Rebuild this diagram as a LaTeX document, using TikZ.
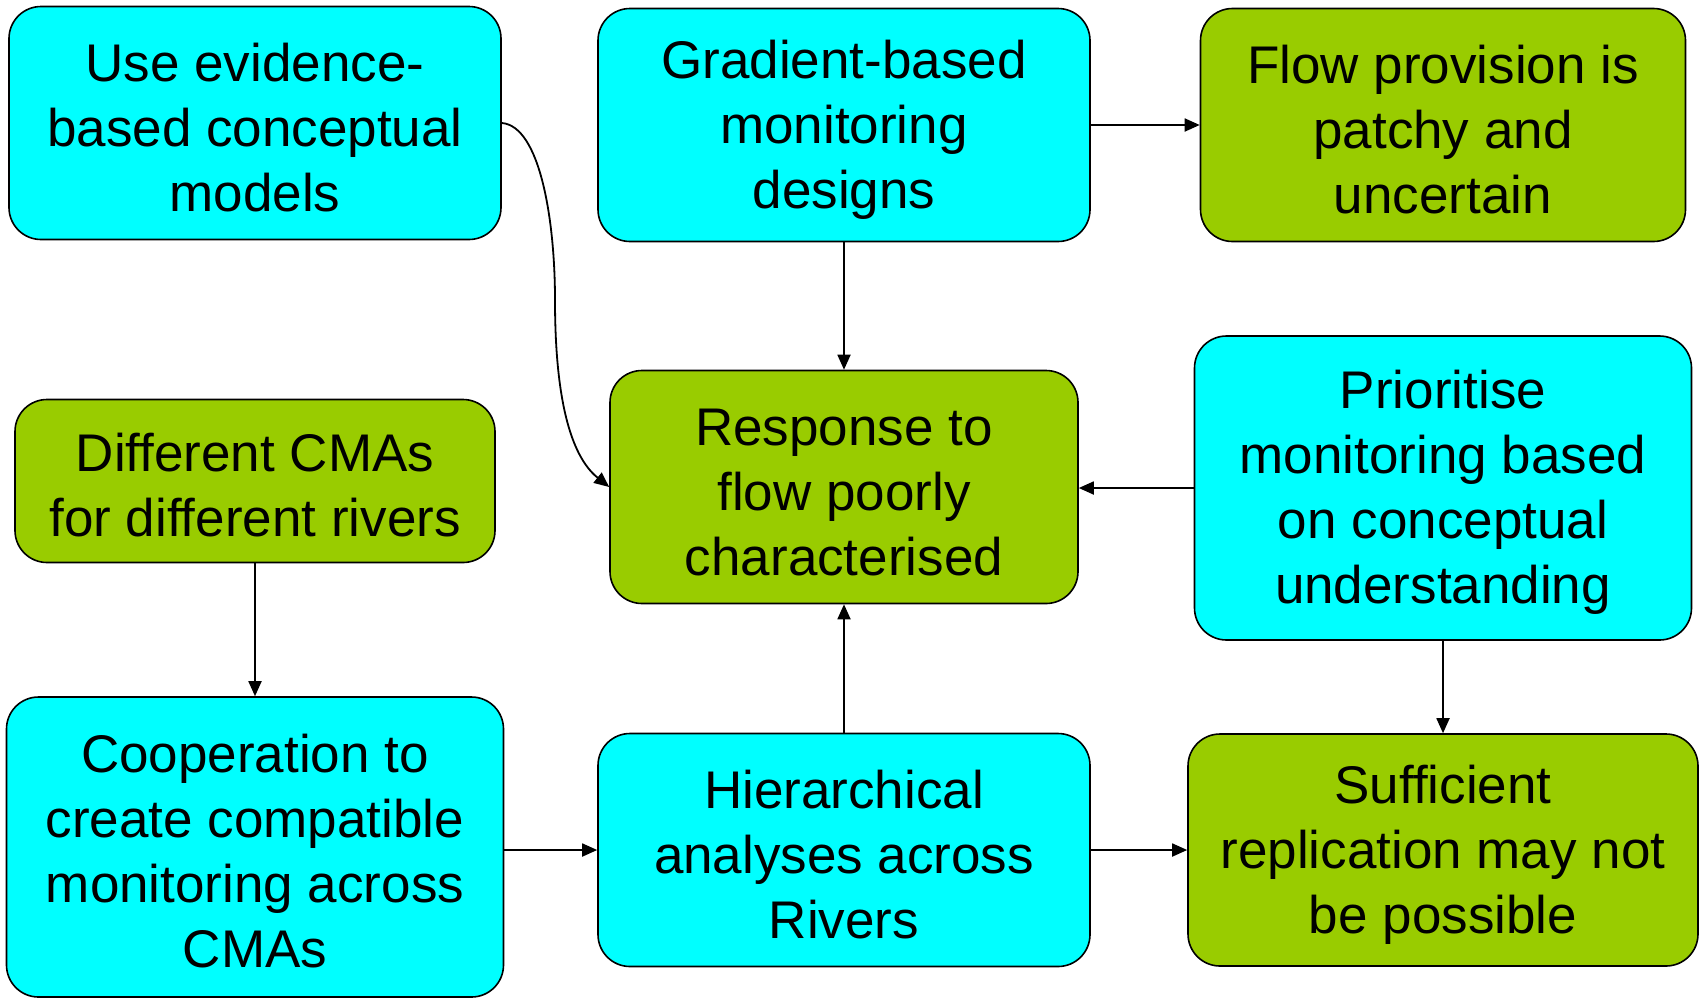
\documentclass[tikz,border=0pt]{standalone}
\usepackage{fontspec}
\setmainfont{Liberation Sans}
\usetikzlibrary{arrows.meta}
\definecolor{boxcyan}{HTML}{00FFFF}
\definecolor{boxgreen}{HTML}{99CC00}
% taller first line so the text block sits a little lower in its box
\newcommand{\topgap}{\rule{0pt}{47pt}}
\begin{document}
\begin{tikzpicture}[x=1pt,y=-1pt,
  card/.style={draw=black, line width=1.6pt, rounded corners=32pt, inner sep=0pt,
    align=center, font=\fontsize{53}{65}\selectfont},
  action/.style={card, fill=boxcyan},
  issue/.style={card, fill=boxgreen},
  link/.style={draw=black, line width=1.8pt, -{Triangle[length=15pt,width=13pt]}}]
\useasboundingbox (0,0) rectangle (1700,997);
\node[action, minimum width=492pt, minimum height=233pt] (A) at (255,123)
  {\topgap Use evidence-\\based conceptual\\models};
\node[action, minimum width=492pt, minimum height=233pt] (B) at (844,125)
  {\topgap Gradient-based\\monitoring\\designs};
\node[issue, minimum width=485pt, minimum height=233pt] (C) at (1443,125)
  {\topgap Flow provision is\\patchy and\\uncertain};
\node[issue, minimum width=480pt, minimum height=163pt] (D) at (255,481)
  {\topgap Different CMAs\\for different rivers};
\node[issue, minimum width=468pt, minimum height=233pt] (E) at (844,487)
  {\topgap Response to\\flow poorly\\characterised};
\node[action, minimum width=497pt, minimum height=304pt] (F) at (1443,488)
  {\topgap Prioritise\\monitoring based\\on conceptual\\understanding};
\node[action, minimum width=497pt, minimum height=300pt] (G) at (255,847)
  {\topgap Cooperation to\\create compatible\\monitoring across\\CMAs};
\node[action, minimum width=492pt, minimum height=233pt] (H) at (844,850)
  {\topgap Hierarchical\\analyses across\\Rivers};
\node[issue, minimum width=510pt, minimum height=232pt] (I) at (1443,850)
  {\topgap Sufficient\\replication may not\\be possible};
% connectors
\draw[link] (A.east) .. controls (540,126) and (555,220) .. (555,300)
  .. controls (555,420) and (578,462) .. (E.west);
\draw[link] (B.south) -- (E.north);
\draw[link] (B.east) -- (C.west);
\draw[link] (F.west) -- (E.east |- F.west);
\draw[link] (D.south) -- (G.north);
\draw[link] (G.east |- H.west) -- (H.west);
\draw[link] (H.north) -- (E.south);
\draw[link] (H.east) -- (I.west);
\draw[link] (F.south) -- (I.north);
\end{tikzpicture}
\end{document}
